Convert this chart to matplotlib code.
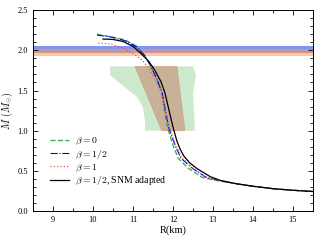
import numpy as np
import matplotlib
matplotlib.use("Agg")
import matplotlib.pyplot as plt
from matplotlib.ticker import MultipleLocator

plt.rcParams['font.family'] = ['Liberation Serif', 'DejaVu Serif']
plt.rcParams['mathtext.fontset'] = 'cm'
plt.rcParams['font.size'] = 6

# mass-radius curves
r_b0 = [10.1, 10.43, 10.8, 11.1, 11.3, 11.45, 11.6, 11.72, 11.79, 11.87, 12.0, 12.13, 12.38, 12.73, 13.1, 13.6, 14.0, 14.5, 15.0, 15.5]
m_b0 = [2.20, 2.17, 2.13, 2.05, 1.93, 1.80, 1.64, 1.47, 1.23, 1.03, 0.82, 0.66, 0.535, 0.42, 0.38, 0.34, 0.31, 0.28, 0.26, 0.245]

r_b12 = [10.1, 10.45, 10.8, 11.1, 11.3, 11.45, 11.6, 11.73, 11.82, 11.9, 12.05, 12.2, 12.48, 12.83, 13.2, 13.6, 14.0, 14.5, 15.0, 15.5]
m_b12 = [2.19, 2.165, 2.12, 2.04, 1.93, 1.80, 1.64, 1.47, 1.23, 1.03, 0.82, 0.66, 0.535, 0.42, 0.38, 0.34, 0.31, 0.28, 0.26, 0.245]

r_b1 = [10.13, 10.43, 10.7, 10.93, 11.18, 11.4, 11.57, 11.72, 11.83, 11.92, 12.07, 12.23, 12.5, 12.85, 13.2, 13.6, 14.0, 14.5, 15.0, 15.5]
m_b1 = [2.09, 2.08, 2.04, 1.98, 1.90, 1.78, 1.62, 1.47, 1.23, 1.03, 0.82, 0.66, 0.535, 0.42, 0.38, 0.34, 0.31, 0.28, 0.26, 0.245]

r_snm = [10.25, 10.5, 10.75, 11.0, 11.2, 11.4, 11.55, 11.7, 11.8, 11.88, 11.95, 12.02, 12.1, 12.18, 12.28, 12.42, 12.6, 12.93, 13.2, 13.6, 14.0, 14.5, 15.0, 15.5]
m_snm = [2.14, 2.135, 2.11, 2.05, 1.96, 1.86, 1.75, 1.61, 1.47, 1.30, 1.15, 1.01, 0.87, 0.77, 0.68, 0.60, 0.53, 0.43, 0.38, 0.34, 0.31, 0.28, 0.26, 0.245]

# observational constraints
psr_blue = (1.97, 2.05)
psr_orange = (1.93, 2.01)

green_r = [10.43, 12.5, 12.575, 12.5, 12.55, 11.3, 11.3, 11.25, 11.1, 10.8, 10.43]
green_m = [1.80, 1.80, 1.69, 1.47, 1.00, 1.00, 1.13, 1.29, 1.42, 1.54, 1.69]

red_r = [11.05, 12.1, 12.3, 11.72]
red_m = [1.80, 1.80, 1.00, 1.00]

fig, ax = plt.subplots(figsize=(3.2, 2.4), dpi=100)
fig.subplots_adjust(left=0.103, right=0.978, top=0.958, bottom=0.12)

ax.axhspan(*psr_blue, color='#4a68e8', alpha=0.7, lw=0)
ax.axhspan(*psr_orange, color='#ff9a55', alpha=0.55, lw=0)
ax.fill(green_r, green_m, color='#5cb85c', alpha=0.3, lw=0)
ax.fill(red_r, red_m, facecolor='#c0604a', edgecolor='#e07060', alpha=0.4, lw=0.6)

ax.plot(r_b0, m_b0, '--', color='#4daf4a', lw=1.0, label=r'$\beta=0$')
ax.plot(r_b12, m_b12, '-.', color='blue', lw=0.8, label=r'$\beta=1/2$')
ax.plot(r_b1, m_b1, ':', color='#ff5050', lw=0.9, label=r'$\beta=1$')
ax.plot(r_snm, m_snm, '-', color='black', lw=0.9, label=r'$\beta=1/2$, SNM adapted')

ax.set_xlim(8.5, 15.5)
ax.set_ylim(0, 2.5)
ax.xaxis.set_major_locator(MultipleLocator(1))
ax.xaxis.set_minor_locator(MultipleLocator(0.5))
ax.yaxis.set_major_locator(MultipleLocator(0.5))
ax.yaxis.set_minor_locator(MultipleLocator(0.1))
ax.tick_params(which='both', direction='in', top=True, right=True, width=0.6)
ax.tick_params(which='major', length=3.5)
ax.tick_params(which='minor', length=2)
for s in ax.spines.values():
    s.set_linewidth(0.7)

ax.set_xlabel('R(km)', fontsize=7.5, labelpad=1)
ax.set_ylabel(r'$M\ (M_{\odot})$', fontsize=7.5, labelpad=2)

ax.legend(loc='lower left', bbox_to_anchor=(0.03, 0.075), frameon=False,
          fontsize=7, handlelength=1.9, handletextpad=0.7, labelspacing=0.15)

fig.savefig('out.png')
